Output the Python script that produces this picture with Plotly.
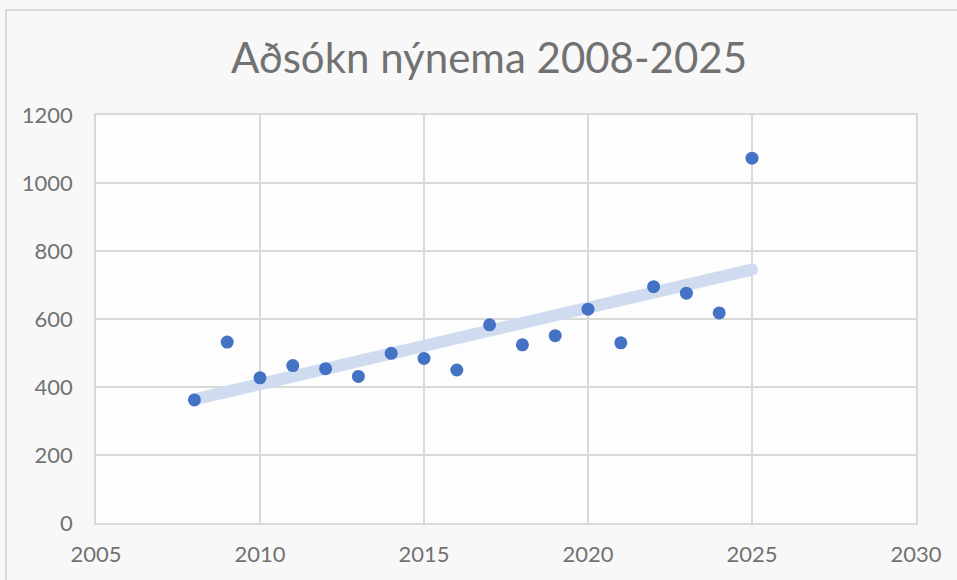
import numpy as np
import plotly.graph_objects as go

years = [2008, 2009, 2010, 2011, 2012, 2013, 2014, 2015, 2016,
         2017, 2018, 2019, 2020, 2021, 2022, 2023, 2024, 2025]
applicants = [362, 532, 427, 463, 454, 431, 499, 484, 450,
              583, 524, 551, 629, 530, 695, 676, 618, 1073]
title_text = "Aðsókn nýnema 2008-2025"
x_ticks = [2005, 2010, 2015, 2020, 2025, 2030]
y_ticks = [0, 200, 400, 600, 800, 1000, 1200]

# linear trendline (least squares) like Excel's
slope, intercept = np.polyfit(years, applicants, 1)
trend_x = [years[0], years[-1]]
trend_y = [slope * x + intercept for x in trend_x]

W, H = 957, 580
L, R, T, B = 96, 41, 115, 57
pw, ph = W - L - R, H - T - B

fig = go.Figure()
fig.add_trace(go.Scatter(
    x=trend_x, y=trend_y, mode="lines+markers",
    line=dict(color="#cfdbef", width=12),
    marker=dict(size=12, color="#cfdbef", line=dict(width=0)),
    hoverinfo="skip", showlegend=False))
fig.add_trace(go.Scatter(
    x=years, y=applicants, mode="markers",
    marker=dict(size=13, color="#4472C4", line=dict(width=0)),
    showlegend=False))

grid = "#d9d9d9"
txt = "#727272"
font_fam = "Lato, 'Open Sans', sans-serif"
fig.update_layout(
    width=W, height=H,
    margin=dict(l=L, r=R, t=T, b=B),
    paper_bgcolor="#f8f8f8", plot_bgcolor="#fdfdfd",
    title=dict(text=title_text, x=(489 - L) / pw, xref="paper", xanchor="center",
               y=1 - 58 / H, yanchor="middle",
               font=dict(family=font_fam, size=42, color=txt)),
    xaxis=dict(range=[x_ticks[0], x_ticks[-1]], tickvals=x_ticks,
               showgrid=True, gridcolor=grid, gridwidth=1.5,
               showline=True, linecolor=grid, linewidth=1.5, mirror=True,
               zeroline=False, ticks="", ticklabelstandoff=11,
               tickfont=dict(family=font_fam, size=22, color=txt)),
    yaxis=dict(range=[y_ticks[0], y_ticks[-1]], tickvals=y_ticks,
               showgrid=True, gridcolor=grid, gridwidth=1.5,
               showline=True, linecolor=grid, linewidth=1.5, mirror=True,
               zeroline=False, ticks="", ticklabelstandoff=17,
               tickfont=dict(family=font_fam, size=22, color=txt)),
)

# outer chart border (top-left visible)
fig.add_shape(type="rect", xref="paper", yref="paper",
              x0=(6 - L) / pw, x1=1 + 60 / pw,
              y0=-(B + 40) / ph, y1=(H - B - 10) / ph,
              line=dict(color="#d0d0d0", width=1.5), layer="below")

fig.write_html("out.html",
               config={"displayModeBar": False},
               post_script="document.body.style.margin='0px';")
